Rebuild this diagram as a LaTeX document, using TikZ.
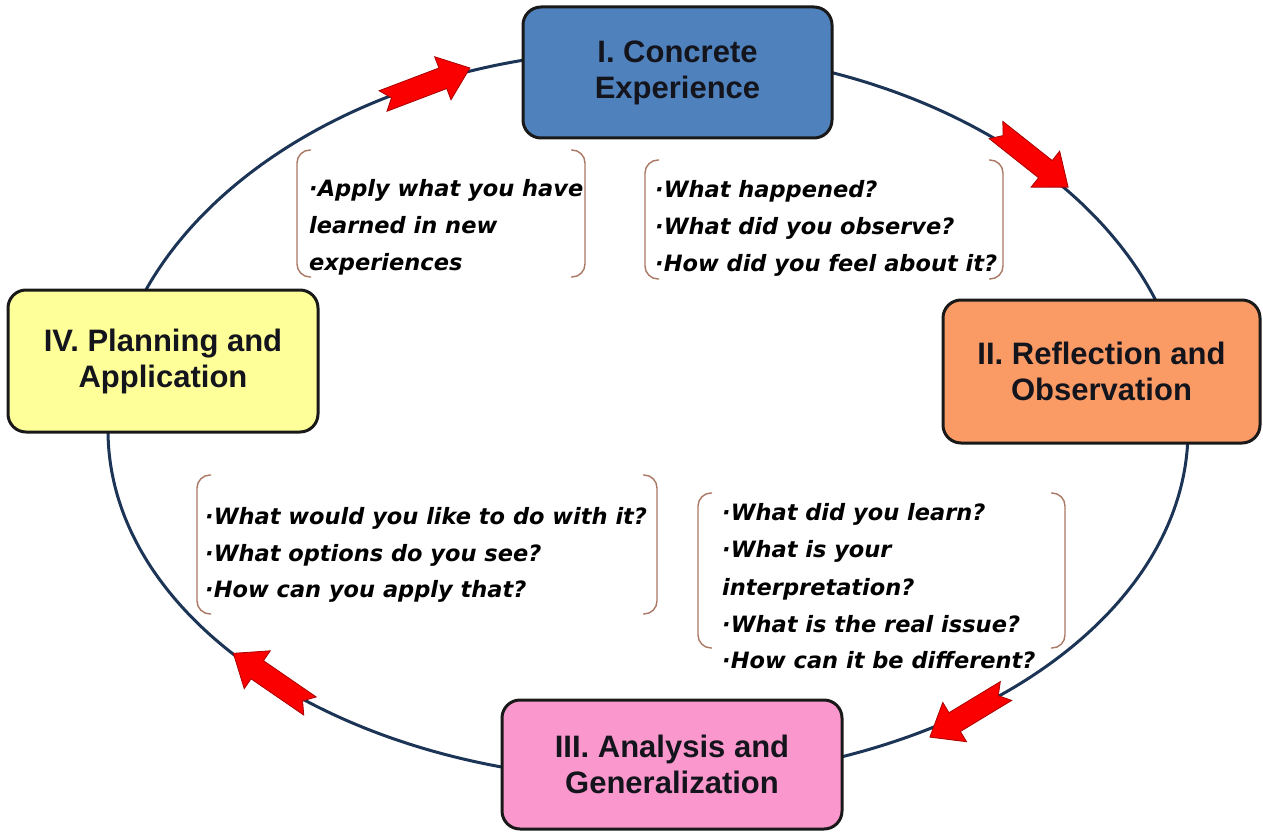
\documentclass[tikz,border=0pt]{standalone}
\usepackage{fontspec}
\setmainfont{Liberation Sans}
\newfontfamily\qfont{DejaVu Sans}
\definecolor{cycleline}{RGB}{28,52,86}
\definecolor{bracketcol}{RGB}{170,120,100}
\definecolor{boxblue}{RGB}{79,129,189}
\definecolor{boxorange}{RGB}{250,155,102}
\definecolor{boxpink}{RGB}{250,152,205}
\definecolor{boxyellow}{RGB}{255,255,153}
\definecolor{arrowred}{RGB}{250,0,0}
\definecolor{arrowedge}{RGB}{170,0,0}
\definecolor{labeltext}{RGB}{20,20,28}
\tikzset{
  stagebox/.style={draw=black!90, line width=3pt, rounded corners=18pt, align=center,
    text=labeltext, font=\bfseries\fontsize{31}{36}\selectfont, inner sep=0pt},
  bracketline/.style={draw=bracketcol, line width=1.4pt, rounded corners=13pt},
  qtext/.style={anchor=base west, inner sep=0pt, font=\qfont\bfseries\itshape\fontsize{22.5}{37}\selectfont},
  redarrowpath/.style={fill=arrowred, draw=arrowedge, line width=0.8pt, line join=miter},
}
\newcommand{\redarrow}[3]{%
  \begin{scope}[shift={#1}, rotate=#2]
    \path[redarrowpath] (0,-11) -- (#3-29,-11) -- (#3-29,-23) -- (#3,0) -- (#3-29,23) -- (#3-29,11) -- (0,11) -- (9,0) -- cycle;
  \end{scope}}
\begin{document}
\begin{tikzpicture}[x=1pt,y=-1pt]
\useasboundingbox (0,0) rectangle (1263,832);
% cycle line
\coordinate (cyc) at (648,430);
\draw[cycleline, line width=3pt] (108,430) arc[start angle=180, end angle=360, x radius=540, y radius=380]
  arc[start angle=0, end angle=180, x radius=540, y radius=350];
% arrows
\redarrow{(383,101)}{20.8}{93}
\redarrow{(996,130)}{-38.4}{92}
\redarrow{(1006,691)}{211.2}{89}
\redarrow{(310,706)}{145.5}{93}
% stage boxes
\node[stagebox, fill=boxblue, minimum width=309pt, minimum height=131pt] (s1) at (677.5,72.5) {I. Concrete\\Experience};
\node[stagebox, fill=boxorange, minimum width=317pt, minimum height=143pt] (s2) at (1101.5,371.5) {II. Reflection and\\Observation};
\node[stagebox, fill=boxpink, minimum width=340pt, minimum height=129pt] (s3) at (672,764.5) {III. Analysis and\\Generalization};
\node[stagebox, fill=boxyellow, minimum width=310pt, minimum height=142pt] (s4) at (163,361) {IV. Planning and\\Application};
% brackets
\draw[bracketline] (311,150) -- (297,150) -- (297,277) -- (311,277);
\draw[bracketline] (571,150) -- (585,150) -- (585,277) -- (571,277);
\draw[bracketline] (659,160) -- (645,160) -- (645,279) -- (659,279);
\draw[bracketline] (989,160) -- (1003,160) -- (1003,279) -- (989,279);
\draw[bracketline] (211,475) -- (197,475) -- (197,614) -- (211,614);
\draw[bracketline] (643,475) -- (657,475) -- (657,614) -- (643,614);
\draw[bracketline] (712,493) -- (698,493) -- (698,648) -- (712,648);
\draw[bracketline] (1051,493) -- (1065,493) -- (1065,648) -- (1051,648);
% question texts
\node[qtext] (a1) at (309,196) {·Apply what you have};
\node[qtext] (a2) at (309,233) {learned in new};
\node[qtext] (a3) at (309,270) {experiences};
\node[qtext] (b1) at (655,197) {·What happened?};
\node[qtext] (b2) at (655,234) {·What did you observe?};
\node[qtext] (b3) at (655,271) {·How did you feel about it?};
\node[qtext] (c1) at (205,524) {·What would you like to do with it?};
\node[qtext] (c2) at (205,561) {·What options do you see?};
\node[qtext] (c3) at (205,597) {·How can you apply that?};
\node[qtext] (d1) at (722,520) {·What did you learn?};
\node[qtext] (d2) at (722,557) {·What is your};
\node[qtext] (d3) at (722,595) {interpretation?};
\node[qtext] (d4) at (722,632) {·What is the real issue?};
\node[qtext] (d5) at (722,668) {·How can it be different?};
\end{tikzpicture}
\end{document}
